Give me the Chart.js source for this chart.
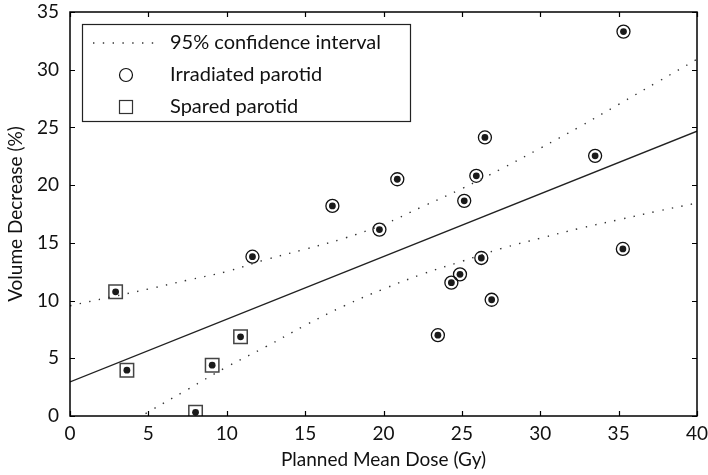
<!DOCTYPE html>
<html>
<head>
<meta charset="utf-8">
<script src="https://cdn.jsdelivr.net/npm/chart.js@4.4.1/dist/chart.umd.min.js"></script>
<style>
  html, body { margin: 0; padding: 0; background: #fff; }
  #wrap { width: 708px; height: 475px; }
</style>
</head>
<body>
<div id="wrap"><canvas id="c" width="708" height="475"></canvas></div>
<script>
// Spared parotid glands
const sparedDose = [2.91, 3.63, 8.01, 9.07, 10.88];
const sparedDecrease = [10.76, 3.97, 0.32, 4.40, 6.86];

// Irradiated parotid glands
const irradiatedDose = [11.64, 16.74, 19.74, 20.88, 23.47, 24.33, 24.88, 25.15, 25.92, 26.24, 26.47, 26.90, 33.50, 35.27, 35.31];
const irradiatedDecrease = [13.80, 18.20, 16.15, 20.51, 7.00, 11.55, 12.27, 18.64, 20.81, 13.69, 24.13, 10.07, 22.54, 14.47, 33.30];

// Linear fit (end points)
const fitDose = [0, 40];
const fitDecrease = [2.95, 24.68];

// 95% confidence band
const ciDose  = [0, 2.5, 5, 7.5, 10, 12.5, 15, 17.5, 20, 22.5, 25, 27.5, 30, 32.5, 35, 37.5, 40];
const ciUpper = [9.55, 10.28, 11.0, 11.77, 12.52, 13.55, 14.45, 15.4, 16.6, 18.15, 19.7, 21.4, 23.2, 25.05, 27.0, 28.95, 30.9];
const ciLower = [-3.7, -1.7, 0.35, 2.3, 4.25, 6.0, 7.85, 9.55, 11.0, 12.3, 13.4, 14.5, 15.4, 16.25, 17.0, 17.75, 18.45];

// Axis ticks and labels
const xTicks = [0, 5, 10, 15, 20, 25, 30, 35, 40];
const yTicks = [0, 5, 10, 15, 20, 25, 30, 35];
const xTitle = 'Planned Mean Dose (Gy)';
const yTitle = 'Volume Decrease (%)';
const legendLabels = ['95% confidence interval', 'Irradiated parotid', 'Spared parotid'];

const FONT = 'Lato, "Noto Sans", sans-serif';
const pts = (xs, ys) => xs.map((x, i) => ({ x, y: ys[i] }));

const dotted = { borderColor: '#333', borderWidth: 1.4, borderDash: [1.4, 8.4], pointRadius: 0, showLine: true, fill: false, tension: 0.4 };

// Matlab-style frame with inward ticks on all four sides
const framePlugin = {
  id: 'frame',
  afterDatasetsDraw(chart) {
    const { ctx, chartArea: a, scales } = chart;
    ctx.save();
    ctx.strokeStyle = '#000';
    ctx.lineWidth = 1.5;
    ctx.strokeRect(a.left, a.top, a.right - a.left, a.bottom - a.top);
    ctx.lineWidth = 1.2;
    const L = 5;
    ctx.beginPath();
    xTicks.forEach(v => {
      const px = Math.round(scales.x.getPixelForValue(v)) + 0.5;
      ctx.moveTo(px, a.bottom); ctx.lineTo(px, a.bottom - L);
      ctx.moveTo(px, a.top); ctx.lineTo(px, a.top + L);
    });
    yTicks.forEach(v => {
      const py = Math.round(scales.y.getPixelForValue(v)) + 0.5;
      ctx.moveTo(a.left, py); ctx.lineTo(a.left + L, py);
      ctx.moveTo(a.right, py); ctx.lineTo(a.right - L, py);
    });
    ctx.stroke();
    ctx.restore();
  }
};

// Boxed legend in the upper-left corner of the plot
const legendPlugin = {
  id: 'boxLegend',
  afterDraw(chart) {
    const { ctx } = chart;
    const bx = 82, by = 24, bw = 328, bh = 97;
    ctx.save();
    ctx.fillStyle = '#fff';
    ctx.fillRect(bx, by, bw, bh);
    ctx.strokeStyle = '#222';
    ctx.lineWidth = 1.2;
    ctx.strokeRect(bx + 0.5, by + 0.5, bw, bh);
    const rows = [43, 75, 107];
    const mx = 126;
    // dotted sample
    ctx.strokeStyle = '#333';
    ctx.lineWidth = 1.4;
    ctx.setLineDash([1.4, 8.4]);
    ctx.beginPath(); ctx.moveTo(93, rows[0]); ctx.lineTo(156, rows[0]); ctx.stroke();
    ctx.setLineDash([]);
    // circle sample
    ctx.lineWidth = 1.2;
    ctx.strokeStyle = '#111';
    ctx.beginPath(); ctx.arc(mx, rows[1], 6.5, 0, Math.PI * 2); ctx.stroke();
    // square sample
    ctx.strokeStyle = '#333';
    ctx.strokeRect(mx - 6.5, rows[2] - 6.5, 13, 13);
    ctx.fillStyle = '#111';
    ctx.font = '20px ' + FONT;
    ctx.textBaseline = 'middle';
    legendLabels.forEach((t, i) => ctx.fillText(t, 170, rows[i]));
    ctx.restore();
  }
};

new Chart(document.getElementById('c'), {
  type: 'scatter',
  data: {
    datasets: [
      { data: pts(ciDose, ciUpper), ...dotted },
      { data: pts(ciDose, ciLower), ...dotted },
      { data: pts(fitDose, fitDecrease), showLine: true, borderColor: '#222', borderWidth: 1.4, pointRadius: 0, fill: false },
      { data: pts(irradiatedDose, irradiatedDecrease), pointStyle: 'circle', pointRadius: 6.5, pointBorderWidth: 1.3, pointBorderColor: '#111', pointBackgroundColor: 'rgba(255,255,255,0)' },
      { data: pts(sparedDose, sparedDecrease), pointStyle: 'rect', pointRadius: 9.5, pointBorderWidth: 1.5, pointBorderColor: '#444', pointBackgroundColor: 'rgba(255,255,255,0)' },
      { data: pts(irradiatedDose, irradiatedDecrease), pointStyle: 'circle', pointRadius: 3.4, pointBorderWidth: 0, pointBackgroundColor: '#1a1a1a' },
      { data: pts(sparedDose, sparedDecrease), pointStyle: 'circle', pointRadius: 3.4, pointBorderWidth: 0, pointBackgroundColor: '#1a1a1a' }
    ]
  },
  options: {
    responsive: false,
    animation: false,
    events: [],
    layout: { padding: { top: 2, right: 0, left: 0, bottom: 0 } },
    plugins: { legend: { display: false }, tooltip: { enabled: false } },
    scales: {
      x: {
        type: 'linear', min: 0, max: 40,
        afterBuildTicks: s => { s.ticks = xTicks.map(v => ({ value: v })); },
        afterFit: s => { s.height = 59; s.paddingRight = 11; },
        grid: { display: false, drawTicks: false },
        border: { display: false },
        ticks: { padding: 6, color: '#111', font: { family: FONT, size: 19 } },
        title: { display: true, text: xTitle, color: '#111', padding: { top: 0 }, font: { family: FONT, size: 19 } }
      },
      y: {
        type: 'linear', min: 0, max: 35,
        afterBuildTicks: s => { s.ticks = yTicks.map(v => ({ value: v })); },
        afterFit: s => { s.width = 70; s.paddingTop = 12; },
        grid: { display: false, drawTicks: false },
        border: { display: false },
        ticks: { padding: 11, color: '#111', font: { family: FONT, size: 19 } },
        title: { display: true, text: yTitle, color: '#111', padding: { bottom: 2 }, font: { family: FONT, size: 19 } }
      }
    }
  },
  plugins: [framePlugin, legendPlugin]
});
</script>
</body>
</html>
